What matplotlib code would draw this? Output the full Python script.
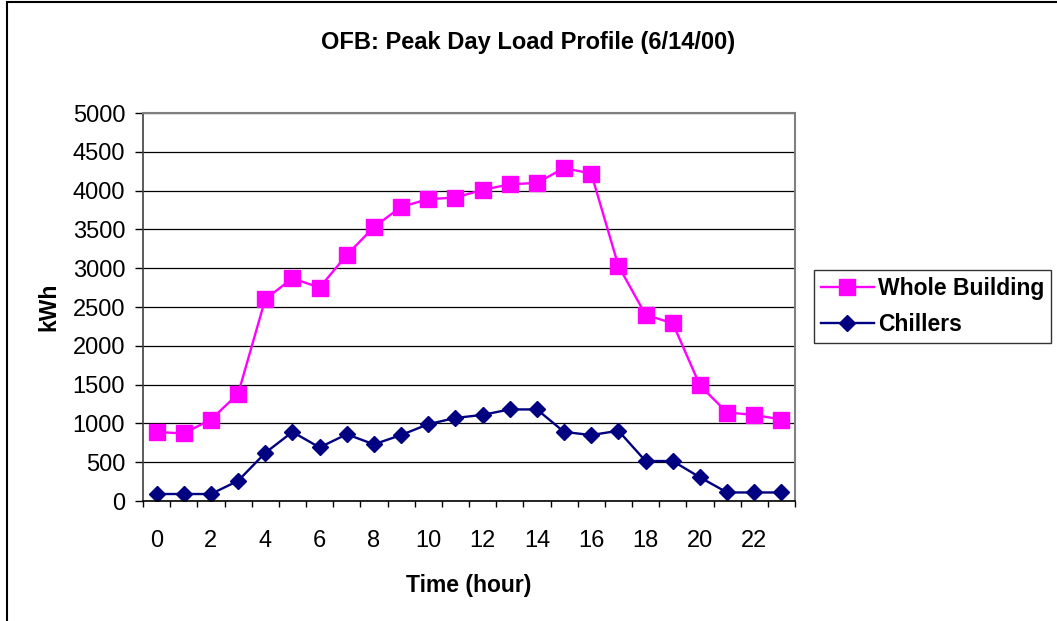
import matplotlib.pyplot as plt
from matplotlib.patches import Rectangle
from matplotlib.ticker import MultipleLocator

plt.rcParams['font.family'] = ['Liberation Sans', 'DejaVu Sans']

# hourly data
hours = list(range(24))
whole_building = [890, 870, 1050, 1380, 2600, 2870, 2750, 3170, 3530, 3790, 3890, 3910,
                  4010, 4080, 4100, 4290, 4220, 3030, 2400, 2290, 1490, 1140, 1110, 1050]
chillers = [90, 90, 90, 260, 620, 890, 690, 860, 730, 850, 990, 1070,
            1110, 1180, 1180, 890, 850, 905, 515, 515, 305, 110, 110, 110]
x_labels = [str(h) for h in range(0, 24, 2)]

fig = plt.figure(figsize=(10.57, 6.21), dpi=100)
ax = fig.add_axes([143 / 1057, 1 - 501 / 621, (795 - 143) / 1057, (501 - 113) / 621])

# outer chart border (only left and top edges fall inside the picture)
fig.patches.append(Rectangle((6.5 / 1057, -0.05), 1.1, 1.05 - 2 / 621, transform=fig.transFigure,
                             fill=False, edgecolor='black', linewidth=1.5))

ax.plot(hours, whole_building, color='#FF00FF', marker='s', markersize=11,
        linewidth=1.7, label='Whole Building')
ax.plot(hours, chillers, color='#000080', marker='D', markersize=8.5,
        linewidth=1.7, label='Chillers')

ax.set_xlim(-0.5, 23.5)
ax.set_ylim(0, 5000)
ax.yaxis.set_major_locator(MultipleLocator(500))
ax.grid(axis='y', color='black', linewidth=0.9)
ax.set_axisbelow(True)

ax.set_xticks(range(0, 24, 2))
ax.set_xticklabels(x_labels)
ax.set_xticks([h - 0.5 for h in range(25)], minor=True)
ax.tick_params(axis='x', which='major', length=0, labelsize=17, pad=21)
ax.tick_params(axis='x', which='minor', length=4.5, width=1, direction='out')
ax.tick_params(axis='y', length=5.8, width=1, labelsize=17, pad=7)

for side in ['top', 'right']:
    ax.spines[side].set_color('#808080')
    ax.spines[side].set_linewidth(1.5)
ax.spines['left'].set_color('#404040')
ax.spines['bottom'].set_color('black')
ax.spines['left'].set_linewidth(1.2)
ax.spines['bottom'].set_linewidth(1.2)

ax.set_xlabel('Time (hour)', fontsize=16.5, fontweight='bold', labelpad=16)
ax.set_ylabel('kWh', fontsize=16.5, fontweight='bold', labelpad=9)
fig.text(0.5, 1 - 43 / 621, 'OFB: Peak Day Load Profile (6/14/00)', ha='center', va='center',
         fontsize=17, fontweight='bold')

leg = fig.legend(loc='upper left', bbox_to_anchor=(814 / 1057, 1 - 270.5 / 621),
                 frameon=True, fancybox=False, edgecolor='black',
                 prop={'weight': 'bold', 'size': 16.5}, handlelength=2.3,
                 borderpad=0.3, labelspacing=0.55, handletextpad=0.2,
                 borderaxespad=0)
leg.get_frame().set_linewidth(1)

fig.savefig('out.png', dpi=100)
